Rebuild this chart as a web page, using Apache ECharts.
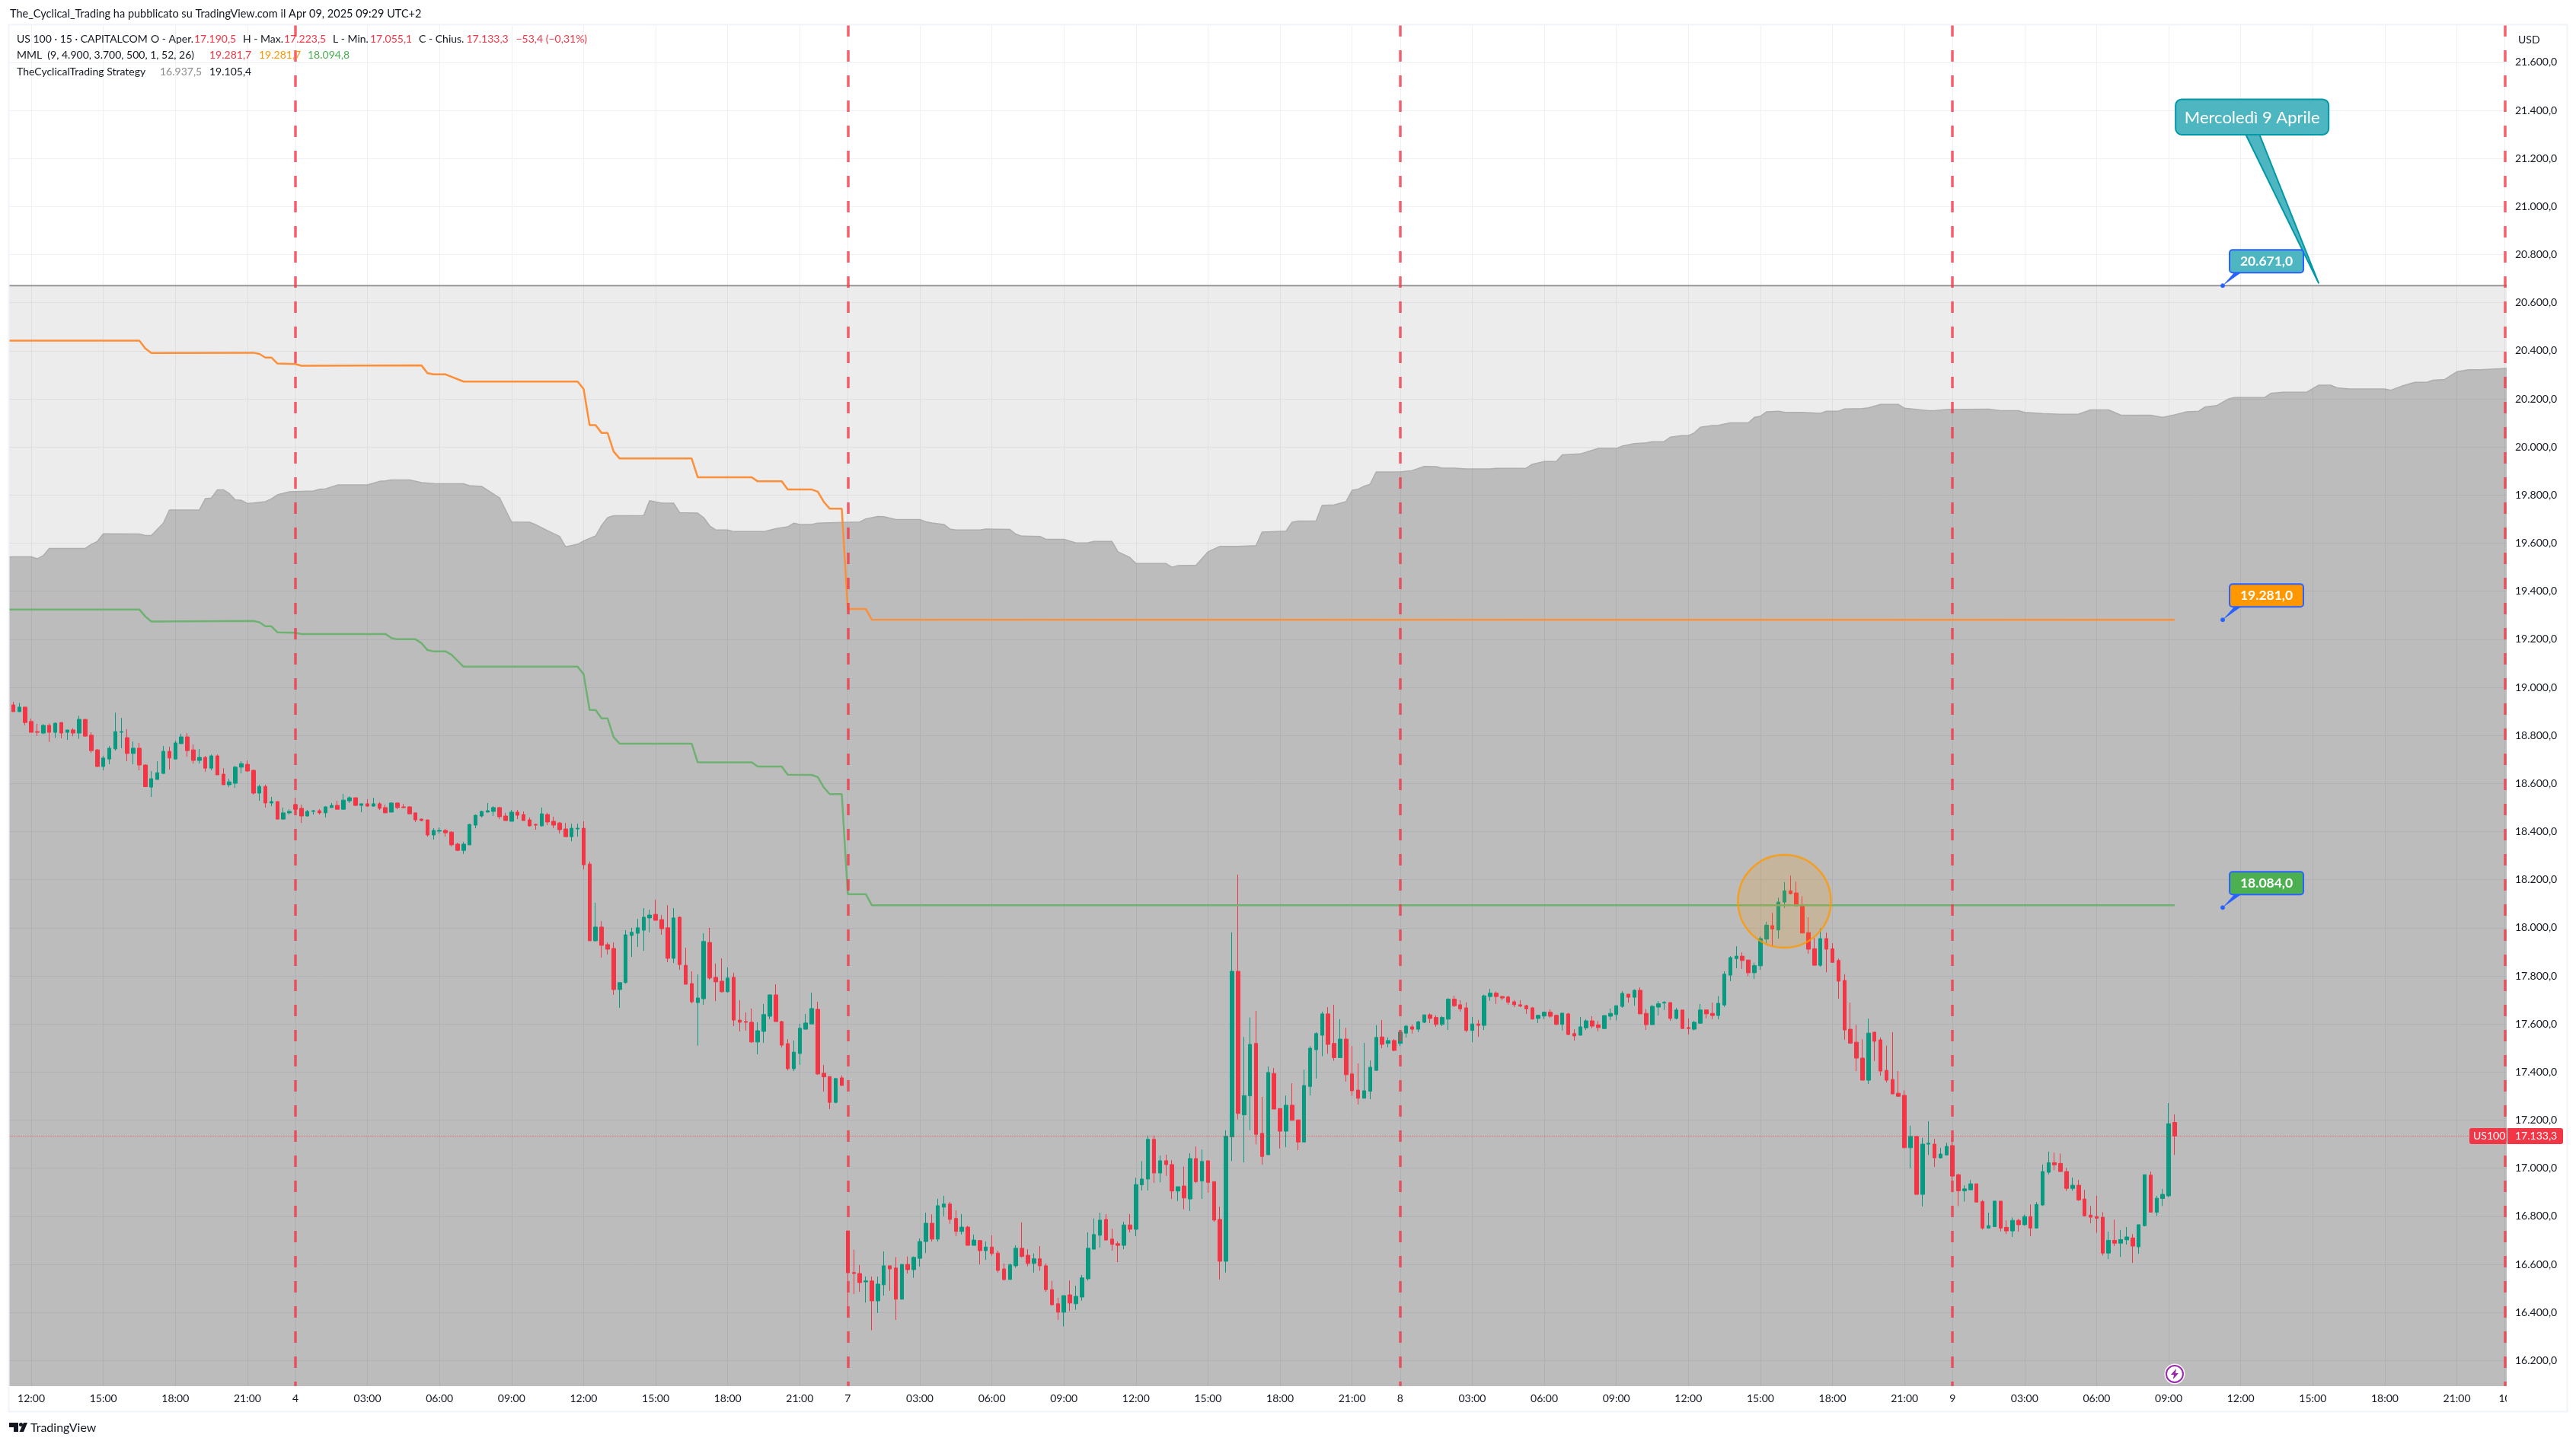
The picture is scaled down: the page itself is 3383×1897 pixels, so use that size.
<!DOCTYPE html>
<html>
<head>
<meta charset="utf-8">
<title>US 100 · 15 · CAPITALCOM</title>
<style>html,body{margin:0;padding:0;background:#fff}#chart{width:3383px;height:1897px}</style>
<script src="https://cdn.jsdelivr.net/npm/echarts@6/dist/echarts.min.js"></script>
</head>
<body>
<div id="chart"></div>
<script>
// 15-minute OHLC bars per session, each bar as [open, close, low, high]
const apr3Bars = [
[18973,18930,18925,18985],[18927,18899,18899,18940],[18899,18918,18899,18935],[18918,18854,18843,18918],
[18858,18813,18813,18870],[18816,18813,18798,18848],[18810,18842,18805,18847],[18842,18813,18773,18850],
[18813,18851,18790,18854],[18854,18810,18788,18854],[18813,18823,18782,18823],[18823,18810,18797,18830],
[18810,18867,18786,18882],[18867,18797,18797,18867],[18801,18737,18728,18813],[18740,18671,18669,18744],
[18671,18706,18655,18715],[18702,18747,18680,18756],[18744,18816,18737,18895],[18813,18816,18747,18873],
[18791,18725,18693,18826],[18725,18747,18680,18775],[18747,18677,18655,18769],[18677,18587,18585,18680],
[18585,18620,18544,18652],[18617,18645,18617,18693],[18642,18734,18640,18756],[18734,18706,18658,18753],
[18702,18769,18702,18778],[18766,18794,18766,18807],[18794,18737,18712,18810],[18740,18696,18683,18763],
[18696,18709,18683,18744],[18709,18664,18649,18715],[18664,18715,18655,18721],[18715,18636,18636,18721],
[18639,18595,18595,18664],[18595,18607,18585,18620],[18601,18668,18582,18674],[18668,18683,18642,18693],
[18680,18652,18649,18696],[18655,18560,18554,18658],[18560,18588,18528,18595],[18588,18519,18500,18595],
[18519,18525,18506,18544],[18525,18452,18452,18525],[18452,18478,18449,18500],[18478,18484,18471,18493]
];
const apr4Bars = [
[18512,18493,18468,18541],[18497,18465,18436,18512],[18465,18484,18462,18490],[18484,18487,18471,18490],
[18487,18478,18471,18493],[18478,18503,18459,18506],[18500,18509,18500,18519],[18509,18493,18493,18528],
[18493,18531,18493,18557],[18528,18541,18519,18547],[18541,18509,18506,18541],[18509,18516,18481,18516],
[18516,18506,18503,18535],[18506,18516,18503,18541],[18516,18497,18490,18522],[18500,18478,18478,18512],
[18481,18519,18481,18522],[18519,18500,18493,18522],[18503,18500,18497,18516],[18503,18474,18474,18506],
[18478,18449,18440,18478],[18452,18446,18443,18455],[18449,18386,18379,18449],[18386,18405,18367,18414],
[18402,18405,18392,18417],[18405,18395,18379,18411],[18398,18345,18338,18402],[18348,18322,18319,18354],
[18322,18348,18307,18357],[18345,18430,18345,18433],[18427,18468,18414,18471],[18465,18484,18459,18487],
[18481,18487,18481,18519],[18484,18500,18465,18506],[18500,18462,18452,18503],[18465,18446,18446,18478],
[18443,18481,18443,18490],[18481,18468,18452,18490],[18471,18446,18446,18484],[18449,18424,18421,18459],
[18430,18427,18408,18433],[18424,18474,18421,18500],[18471,18440,18427,18478],[18443,18427,18414,18462],
[18436,18408,18392,18440],[18411,18379,18379,18436],[18379,18414,18360,18433],[18411,18414,18379,18433],
[18414,18262,18243,18443],[18265,17946,17946,18275],[17946,18003,17943,18104],[18003,17927,17876,18028],
[17930,17911,17889,17939],[17914,17743,17721,17939],[17743,17772,17667,17772],[17772,17971,17768,17990],
[17968,17981,17879,18000],[17977,18000,17920,18037],[17990,18044,17904,18082],[18041,18053,17981,18075],
[18056,18031,18031,18117],[18034,17996,17971,18053],[18000,17873,17857,18094],[17873,18041,17854,18082],
[18044,17847,17825,18047],[17844,17765,17765,17917],[17768,17692,17686,17819],[17689,17708,17510,17806],
[17705,17943,17680,17977],[17939,17791,17784,18000],[17794,17775,17695,17851],[17778,17734,17730,17873],
[17734,17791,17730,17835],[17794,17616,17591,17813],[17616,17607,17569,17699],[17610,17607,17572,17648],
[17607,17525,17521,17664],[17525,17572,17474,17607],[17569,17639,17521,17683],[17632,17721,17620,17721],
[17721,17610,17610,17765],[17610,17512,17502,17613],[17518,17414,17407,17537],[17414,17483,17404,17531],
[17477,17582,17430,17601],[17578,17604,17578,17642],[17600,17664,17600,17730],[17661,17392,17388,17692],
[17395,17380,17319,17429],[17381,17274,17246,17381],[17274,17373,17270,17373],[17376,17344,17344,17386]
];
const apr7Bars = [
[16739,16565,16378,16739],[16566,16562,16477,16661],[16562,16524,16486,16598],[16527,16531,16441,16549],
[16531,16448,16326,16549],[16448,16518,16398,16549],[16515,16594,16470,16654],[16594,16581,16490,16594],
[16585,16455,16369,16630],[16455,16600,16455,16600],[16600,16578,16562,16633],[16578,16629,16544,16633],
[16625,16695,16591,16708],[16695,16771,16647,16815],[16771,16705,16695,16808],[16705,16844,16695,16873],
[16838,16851,16800,16885],[16851,16787,16769,16860],[16791,16737,16717,16825],[16737,16755,16724,16809],
[16755,16679,16679,16760],[16679,16701,16679,16724],[16699,16657,16600,16701],[16657,16672,16619,16695],
[16672,16645,16636,16721],[16647,16575,16566,16657],[16581,16537,16532,16604],[16537,16598,16537,16604],
[16594,16667,16586,16679],[16667,16633,16629,16775],[16638,16604,16592,16663],[16604,16623,16566,16645],
[16623,16594,16573,16676],[16594,16495,16486,16604],[16495,16432,16428,16532],[16436,16401,16369,16461],
[16401,16470,16342,16470],[16473,16439,16405,16533],[16436,16467,16411,16511],[16464,16544,16449,16556],
[16540,16667,16532,16733],[16663,16724,16662,16791],[16721,16784,16670,16815],[16787,16701,16701,16809],
[16705,16683,16657,16748],[16686,16679,16609,16695],[16679,16764,16663,16777],[16764,16746,16733,16809],
[16746,16932,16717,16960],[16931,16955,16907,17029],[16955,17120,16907,17136],[17120,16980,16939,17136],
[16980,17031,16941,17053],[17031,17015,16968,17056],[17015,16905,16872,17033],[16905,16923,16863,16923],
[16926,16876,16829,17007],[16872,17040,16822,17062],[17040,16944,16938,17090],[16947,17028,16872,17078],
[17031,16941,16898,17031],[16944,16784,16777,16944],[16787,16613,16537,16840],[16613,17133,16566,17158],
[17130,17819,17029,17981],[17819,17228,17203,18221],[17222,17302,17024,17546],[17301,17515,17158,17627],
[17519,17141,17099,17654],[17145,17049,17015,17297],[17056,17398,17056,17423],[17394,17246,17246,17417],
[17248,17154,17082,17248],[17154,17262,17088,17302],[17262,17199,17199,17353],[17201,17109,17075,17201],
[17109,17344,17109,17410],[17340,17499,17302,17508],[17493,17560,17373,17566],[17553,17642,17466,17651],
[17642,17515,17476,17670],[17519,17460,17447,17680],[17460,17537,17460,17620],[17537,17389,17360,17584],
[17392,17322,17301,17508],[17325,17291,17265,17436],[17291,17322,17291,17521],[17320,17420,17287,17448],
[17407,17544,17405,17595],[17546,17515,17499,17616],[17519,17531,17502,17544],[17531,17490,17487,17537]
];
const apr8Bars = [
[17519,17566,17508,17575],[17562,17591,17544,17595],[17588,17578,17560,17598],[17578,17609,17566,17613],
[17607,17638,17604,17638],[17638,17623,17604,17644],[17627,17598,17588,17636],[17598,17627,17591,17633],
[17620,17703,17575,17707],[17703,17676,17670,17717],[17680,17663,17651,17699],[17667,17573,17566,17690],
[17573,17600,17524,17629],[17600,17594,17546,17616],[17594,17717,17575,17722],[17714,17728,17696,17746],
[17728,17714,17683,17735],[17714,17708,17699,17717],[17712,17690,17680,17717],[17692,17680,17670,17699],
[17680,17674,17670,17699],[17676,17663,17642,17680],[17667,17620,17620,17671],[17623,17636,17604,17638],
[17633,17649,17620,17651],[17649,17632,17625,17661],[17636,17598,17595,17638],[17598,17645,17573,17645],
[17642,17556,17553,17646],[17560,17550,17531,17578],[17553,17588,17553,17629],[17584,17613,17575,17620],
[17613,17591,17582,17632],[17596,17585,17570,17612],[17581,17635,17578,17635],[17632,17644,17616,17664],
[17639,17676,17615,17676],[17673,17727,17667,17736],[17724,17711,17689,17724],[17711,17740,17676,17744],
[17740,17642,17642,17752],[17644,17597,17575,17662],[17597,17673,17597,17679],[17670,17684,17635,17695],
[17687,17690,17658,17695],[17689,17623,17613,17689],[17623,17658,17619,17667],[17658,17581,17581,17658],
[17585,17581,17556,17623],[17578,17607,17573,17613],[17603,17658,17601,17683],[17658,17642,17623,17660],
[17644,17635,17620,17689],[17635,17686,17619,17716],[17679,17807,17671,17819],[17803,17876,17778,17882],
[17872,17882,17832,17923],[17882,17864,17829,17898],[17866,17813,17798,17866],[17813,17843,17787,17855],
[17842,17955,17825,17964],[17953,18011,17934,18025],[18009,17995,17923,18062],[17991,18107,17955,18125],
[18107,18154,18083,18190],[18154,18142,18139,18217],[18145,18091,18091,18192],[18094,17978,17978,18131],
[17980,17911,17892,18044],[17913,17844,17844,17958],[17844,17955,17838,17997],[17955,17911,17815,17980],
[17913,17856,17856,17936],[17864,17778,17705,17872],[17781,17575,17535,17807],[17578,17520,17520,17689],
[17524,17458,17404,17596],[17458,17366,17366,17536],[17366,17562,17350,17622],[17566,17528,17446,17566],
[17534,17404,17385,17544],[17407,17366,17357,17510],[17369,17309,17309,17566],[17312,17299,17299,17404],
[17303,17085,17085,17324],[17085,17132,17000,17177],[17132,16891,16891,17132],[16891,17100,16841,17126],
[17100,17104,17055,17195],[17100,17043,17005,17122],[17043,17059,17040,17085],[17055,17091,17055,17106]
];
const apr9Bars = [
[17094,16967,16900,17127],[16973,16906,16843,16977],[16906,16914,16861,16929],[16910,16935,16910,16951],
[16935,16859,16859,16935],[16861,16751,16745,16868],[16751,16761,16751,16815],[16757,16863,16755,16865],
[16863,16751,16737,16863],[16754,16739,16726,16783],[16739,16783,16714,16795],[16783,16765,16736,16789],
[16765,16799,16761,16807],[16799,16751,16717,16849],[16751,16849,16751,16859],[16847,16986,16843,17015],
[16983,17023,16974,17069],[17023,17014,16991,17065],[17020,16986,16986,17061],[16986,16916,16905,17002],
[16916,16929,16906,16961],[16929,16868,16864,16951],[16872,16802,16799,16910],[16805,16796,16771,16843],
[16799,16792,16731,16885],[16796,16647,16637,16817],[16647,16700,16622,16736],[16700,16688,16676,16786],
[16688,16703,16631,16743],[16702,16714,16682,16755],[16710,16676,16606,16726],[16673,16765,16644,16765],
[16761,16973,16759,16973],[16971,16817,16817,16986],[16817,16875,16802,16885],[16874,16891,16843,16914],
[16885,17185,16880,17271],[17190.5,17133.3,17055.1,17223.5]
];

// Upper cloud edge and MML levels as [bar index, price] vertices
const cloudEdge = [
[0,19543],[4,19543],[5,19535],[6,19548],[7,19578],[13,19578],[14,19595],[15,19607],[16,19639],[22,19638],[23,19632],[24,19632],
[26,19683],[27,19738],[32,19738],[33,19785],[34,19788],[35,19822],[36,19822],[37,19806],[38,19780],[39,19778],[40,19765],[41,19767],
[43,19773],[44,19784],[45,19801],[47,19814],[51,19817],[52,19824],[53,19826],[55,19842],[60,19842],[62,19857],[63,19859],[64,19863],
[67,19863],[69,19852],[71,19848],[76,19847],[77,19839],[79,19836],[82,19788],[84,19688],[87,19687],[88,19677],[90,19652],[92,19628],
[93,19585],[95,19595],[96,19609],[98,19630],[99,19674],[100,19706],[101,19714],[106,19715],[107,19777],[109,19766],[111,19766],
[112,19727],[115,19725],[116,19706],[117,19672],[118,19655],[120,19655],[121,19648],[126,19648],[128,19660],[130,19668],[131,19683],
[132,19678],[134,19678],[135,19683],[137,19685],[142,19688],[143,19701],[145,19711],[146,19710],[148,19698],[152,19698],[153,19689],
[154,19684],[156,19678],[157,19659],[158,19655],[162,19655],[163,19659],[167,19657],[168,19637],[169,19629],[172,19628],[173,19616],
[176,19616],[178,19601],[180,19602],[181,19607],[184,19607],[185,19564],[187,19540],[188,19515],[193,19515],[194,19500],[195,19507],
[198,19508],[200,19564],[202,19587],[205,19587],[208,19590],[209,19646],[213,19650],[214,19687],[215,19692],[218,19693],[219,19757],
[221,19759],[223,19773],[224,19820],[225,19824],[226,19837],[227,19845],[228,19896],[232,19896],[234,19902],[236,19919],[238,19918],
[239,19912],[241,19912],[243,19909],[247,19909],[248,19911],[253,19912],[254,19928],[256,19940],[258,19940],[259,19967],[262,19971],
[265,19994],[268,19994],[269,20004],[271,20014],[273,20017],[274,20022],[276,20023],[277,20041],[279,20047],[280,20047],[281,20059],
[282,20082],[284,20089],[285,20090],[287,20100],[290,20100],[291,20123],[292,20128],[293,20146],[295,20149],[296,20145],[299,20144],
[302,20140],[303,20149],[305,20149],[306,20158],[309,20160],[310,20163],[312,20177],[315,20177],[316,20161],[320,20151],[321,20151],
[323,20156],[330,20157],[332,20151],[335,20151],[336,20144],[339,20139],[342,20136],[345,20137],[347,20154],[350,20154],[352,20133],
[357,20132],[359,20123],[361,20134],[363,20146],[365,20149],[366,20166],[368,20172],[370,20200],[371,20206],[376,20206],[377,20223],
[379,20228],[383,20228],[385,20257],[387,20257],[388,20246],[390,20241],[396,20241],[397,20236],[399,20255],[401,20269],[403,20269],
[404,20278],[406,20281],[408,20313],[410,20321],[412,20321],[416,20327],[417,20327]
];
const mmlOrange = [
[0,20442],[22,20442],[23,20410],[24,20391],[41,20392],[42,20387],[43,20372],[44,20372],[45,20347],[48,20345],[49,20338],[69,20339],
[70,20307],[71,20302],[73,20302],[76,20272],[95,20272],[96,20241],[97,20091],[98,20091],[99,20058],[100,20058],[101,19981],[102,19952],
[114,19952],[115,19874],[124,19874],[125,19857],[129,19857],[130,19823],[134,19823],[135,19814],[136,19772],[137,19743],[139,19743],
[140,19326],[143,19326],[144,19282],[361,19281]
];
const mmlGreen = [
[0,19324],[22,19324],[23,19295],[24,19274],[41,19276],[42,19271],[43,19254],[44,19254],[45,19229],[48,19227],[49,19222],[63,19222],
[64,19205],[65,19200],[68,19200],[69,19184],[70,19155],[71,19150],[73,19150],[74,19136],[76,19086],[95,19086],[96,19055],[97,18906],
[98,18906],[99,18871],[100,18871],[101,18793],[102,18766],[114,18766],[115,18688],[124,18688],[125,18671],[129,18671],[130,18637],
[134,18636],[135,18627],[136,18584],[137,18556],[139,18556],[140,18140],[143,18140],[144,18094],[361,18094]
];
const rangeTop = 20671;
const lastPrice = 17133.3;
const mmlOrangeTag = 19281;
const mmlGreenTag = 18084;
const dayBreaks = [48, 140, 232, 324, 416];
const highlight = [296, 18110];
const calloutTip = [385, 20680];
const tagIndex = 369;
const lastBarIndex = 361;

// Time-scale labels
const tickIndex = [4,16,28,40,48,60,72,84,96,108,120,132,140,152,164,176,188,200,212,224,232,244,256,268,280,292,304,316,324,336,348,360,372,384,396,408,416];
const tickText = ['12:00','15:00','18:00','21:00','4','03:00','06:00','09:00','12:00','15:00','18:00','21:00','7','03:00','06:00','09:00','12:00','15:00','18:00','21:00','8','03:00','06:00','09:00','12:00','15:00','18:00','21:00','9','03:00','06:00','09:00','12:00','15:00','18:00','21:00','10'];

const categories = new Array(418).fill('');
tickIndex.forEach((idx, k) => { categories[idx] = tickText[k]; });
const bars = [].concat(apr3Bars, apr4Bars, apr7Bars, apr8Bars, apr9Bars);

const FONT = 'Lato, "Noto Sans", sans-serif';
const INK = '#131722';
const RED = '#f23645';
const UP = '#089981';
const priceText = v => String(Math.floor(v)).replace(/\B(?=(\d{3})+$)/g, '.') + ',' + Math.round((v % 1) * 10);

const chart = echarts.init(document.getElementById('chart'), null, {renderer: 'canvas'});
const GRID = {left: 9.5, top: 18.7, width: 3288, height: 1831.8};

chart.setOption({
  animation: false,
  backgroundColor: '#ffffff',
  grid: Object.assign({containLabel: false}, GRID),
  xAxis: [
    {type: 'category', position: 'top', data: categories, boundaryGap: false,
     axisLine: {show: false}, axisTick: {show: false}, axisLabel: {show: false},
     splitLine: {show: true, interval: i => categories[i] !== '', lineStyle: {color: '#eff1f5', width: 1}}},
    {type: 'category', position: 'bottom', data: categories, boundaryGap: false, z: 60,
     axisLine: {show: false}, axisTick: {show: false}, splitLine: {show: false},
     axisLabel: {show: true, interval: 0, margin: -20, color: INK, fontFamily: FONT, fontSize: 14}}
  ],
  yAxis: [
    {type: 'value', position: 'left', min: 16000, max: 21800, interval: 200, scale: true,
     axisLine: {show: false}, axisTick: {show: false}, axisLabel: {show: false},
     splitLine: {show: true, lineStyle: {color: '#eff1f5', width: 1}}},
    {type: 'value', position: 'right', min: 16000, max: 21800, interval: 200, scale: true, z: 60,
     axisLine: {show: false}, axisTick: {show: false}, splitLine: {show: false},
     axisLabel: {show: true, margin: 5.5, color: INK, fontFamily: FONT, fontSize: 14,
       formatter: v => (v < 16200 || v > 21600) ? '' : priceText(v)}}
  ],
  series: [
    {name: 'Range', type: 'line', z: 1, symbol: 'none', silent: true,
     data: [[0, rangeTop], [417, rangeTop]],
     lineStyle: {color: '#969696', width: 2},
     areaStyle: {origin: 'start', color: 'rgba(0,0,0,0.075)', opacity: 1}},
    {name: 'Cloud', type: 'line', z: 1, symbol: 'none', silent: true,
     data: cloudEdge,
     lineStyle: {color: '#aeaeae', width: 1.5},
     areaStyle: {origin: 'start', color: 'rgba(0,0,0,0.203)', opacity: 1}},
    {name: 'US 100', type: 'candlestick', z: 3, barWidth: 5, silent: true,
     data: bars,
     itemStyle: {color: UP, color0: RED, borderColor: UP, borderColor0: RED, borderWidth: 1}},
    {name: 'MML high', type: 'line', z: 4, symbol: 'none', silent: true,
     data: mmlOrange, lineStyle: {color: '#fd8f38', width: 2.5}},
    {name: 'MML low', type: 'line', z: 4, symbol: 'none', silent: true,
     data: mmlGreen, lineStyle: {color: '#6fb173', width: 2.5}},
    {name: 'Markers', type: 'line', z: 5, symbol: 'none', silent: true, data: [],
     markLine: {
       silent: true, symbol: 'none', animation: false, label: {show: false},
       data: dayBreaks.map(i => [
         {coord: [i, 21755], lineStyle: {color: 'rgba(242,54,69,0.78)', width: 3.5, type: [15, 18]}},
         {coord: [i, 16094]}
       ]).concat([[
         {coord: [0, lastPrice], lineStyle: {color: RED, width: 1, type: [1, 2]}},
         {coord: [417, lastPrice]}
       ]])
     }},
    {name: 'Highlight', type: 'scatter', z: 6, silent: true, symbol: 'circle', symbolSize: 122,
     data: [highlight],
     itemStyle: {color: 'rgba(255,152,0,0.2)', borderColor: '#ff9800', borderWidth: 2.5}}
  ]
});

// Chart furniture placed once the scales exist
const at = (i, v) => chart.convertToPixel({xAxisIndex: 0, yAxisIndex: 0}, [i, v]);
const g = [];
const COVER = '#ffffff';
[[0, 0, 3383, 33], [0, 1821, 3383, 76], [0, 0, 12, 1897], [3292, 0, 91, 1897]].forEach(r => {
  g.push({type: 'rect', z: 50, silent: true, shape: {x: r[0], y: r[1], width: r[2], height: r[3]}, style: {fill: COVER}});
});
g.push({type: 'rect', z: 70, silent: true, shape: {x: 3292, y: 1821, width: 80, height: 33}, style: {fill: COVER}});
g.push({type: 'rect', z: 72, silent: true, shape: {x: 11.5, y: 32.5, width: 3360, height: 1822}, style: {fill: 'none', stroke: '#f0f3fa', lineWidth: 2}});

const text = (x, y, str, color, size, extra) => g.push({type: 'text', z: 80, silent: true, x, y,
  style: Object.assign({text: str, fill: color || INK, font: (size || 14) + 'px ' + FONT, textVerticalAlign: 'middle', verticalAlign: 'middle'}, extra || {})});

text(13, 18, 'The_Cyclical_Trading ha pubblicato su TradingView.com il Apr 09, 2025 09:29 UTC+2', INK, 14.5);
[[22, 'US 100 · 15 · CAPITALCOM', INK], [198, 'O - Aper.', INK], [255, '17.190,5', RED], [319, 'H - Max.', INK], [373, '17.223,5', RED],
 [437, 'L - Min.', INK], [486, '17.055,1', RED], [550, 'C - Chius.', INK], [612.5, '17.133,3', RED], [677.5, '−53,4 (−0,31%)', RED]]
  .forEach(t => text(t[0], 51.7, t[1], t[2]));
[[22, 'MML  (9, 4.900, 3.700, 500, 1, 52, 26)', INK], [275, '19.281,7', RED], [340, '19.281,7', '#ff9800'], [404, '18.094,8', '#4caf50']]
  .forEach(t => text(t[0], 72.7, t[1], t[2]));
[[22, 'TheCyclicalTrading Strategy', INK], [210, '16.937,5', '#8c8c8c'], [275, '19.105,4', INK]]
  .forEach(t => text(t[0], 94, t[1], t[2]));
text(3307, 52, 'USD');

// Last-price tags on the scale
const py = at(0, lastPrice)[1];
g.push({type: 'rect', z: 76, silent: true, shape: {x: 3243, y: py - 10.5, width: 48.5, height: 21, r: [3, 0, 0, 3]}, style: {fill: RED}});
g.push({type: 'rect', z: 76, silent: true, shape: {x: 3293, y: py - 10.5, width: 73, height: 21, r: [0, 3, 3, 0]}, style: {fill: RED}});
text(3248, py, 'US100', '#ffffff');
text(3303, py, priceText(lastPrice), '#ffffff');

// Price tags with their anchor dot
function tag(value, label, fill) {
  const p = at(tagIndex, value);
  const x = p[0] + 9, y = p[1] - 47;
  g.push({type: 'polygon', z: 74, silent: true, shape: {points: [[p[0], p[1]], [x + 6, y + 30], [x + 15, y + 30]]}, style: {fill: '#2962ff'}});
  g.push({type: 'rect', z: 75, silent: true, shape: {x, y, width: 97, height: 30, r: 4}, style: {fill, stroke: '#2962ff', lineWidth: 2}});
  g.push({type: 'circle', z: 75, silent: true, shape: {cx: p[0], cy: p[1], r: 2.5}, style: {fill: '#2962ff', stroke: '#2962ff', lineWidth: 1}});
  text(x + 48.5, y + 15, label, '#ffffff', 15, {align: 'center', textAlign: 'center', font: 'bold 17.5px ' + FONT});
}
tag(rangeTop, '20.671,0', '#4db6c1');
tag(mmlOrangeTag, '19.281,0', '#ff9800');
tag(mmlGreenTag, '18.084,0', '#4caf50');

// Text callout pointing at the range top
const tip = at(calloutTip[0], calloutTip[1]);
g.push({type: 'polygon', z: 74, silent: true,
  shape: {points: [[tip[0], tip[1]], [tip[0] - 96, tip[1] - 196], [tip[0] - 78, tip[1] - 196]]},
  style: {fill: '#4db6c1', stroke: '#0097a7', lineWidth: 2}});
g.push({type: 'rect', z: 75, silent: true, shape: {x: tip[0] - 188, y: tip[1] - 242, width: 201, height: 46.5, r: 8},
  style: {fill: '#4db6c1', stroke: '#0097a7', lineWidth: 2}});
text(tip[0] - 87.5, tip[1] - 218, 'Mercoledì 9 Aprile', '#ffffff', 22, {align: 'center', textAlign: 'center'});

// Lightning badge under the last bar
const bx = at(lastBarIndex, 0)[0], by = 1805;
g.push({type: 'circle', z: 75, silent: true, shape: {cx: bx, cy: by, r: 13.5}, style: {fill: '#fff'}});
g.push({type: 'circle', z: 75, silent: true, shape: {cx: bx, cy: by, r: 11}, style: {fill: 'none', stroke: '#9c27b0', lineWidth: 2}});
g.push({type: 'polygon', z: 76, silent: true, shape: {points: [[bx + 2, by - 7], [bx - 5, by + 1], [bx - 1, by + 1], [bx - 2, by + 7], [bx + 5, by - 1], [bx + 1, by - 1]]}, style: {fill: '#9c27b0'}});

// Watermark
g.push({type: 'polygon', z: 80, silent: true, shape: {points: [[12, 1869], [24, 1869], [24, 1881], [18, 1881], [18, 1875], [12, 1875]]}, style: {fill: '#131722'}});
g.push({type: 'circle', z: 80, silent: true, shape: {cx: 27.5, cy: 1871.5, r: 2.5}, style: {fill: '#131722'}});
g.push({type: 'polygon', z: 80, silent: true, shape: {points: [[31, 1869], [36, 1869], [31, 1881], [25.5, 1881]]}, style: {fill: '#131722'}});
text(40, 1876, 'TradingView', INK, 16);

chart.setOption({graphic: {elements: g}});
</script>
</body>
</html>
